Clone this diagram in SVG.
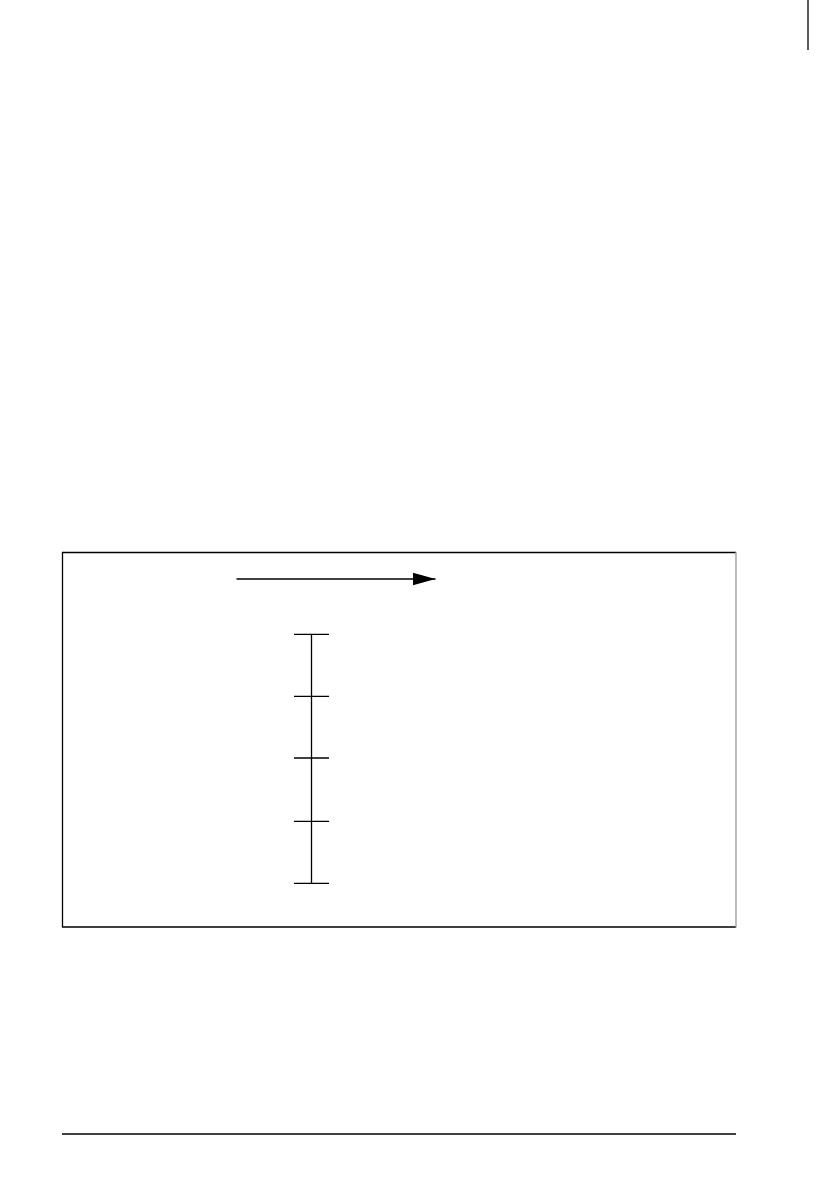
<svg xmlns="http://www.w3.org/2000/svg" width="838" height="1192" viewBox="0 0 838 1192">
<style>
.ln{stroke:#000;stroke-width:1.3;fill:none}
</style>
<defs>
<marker id="ah" markerUnits="userSpaceOnUse" markerWidth="24" markerHeight="14" refX="23" refY="7" orient="auto">
<path d="M0,0.5 L23,7 L0,13.5 Z" fill="#000"/>
</marker>
</defs>
<rect width="838" height="1192" fill="#fff"/>
<line id="corner-mark" class="ln" x1="808" y1="0" x2="808" y2="50"/>
<g id="frame">
<path d="M736,552.5 L62.5,552.5 L62.5,927 L736,927" class="ln"/>
<line x1="736" y1="552" x2="736" y2="927.5" stroke="#999" stroke-width="1.3"/>
</g>
<g id="connectors">
<line id="arrow" class="ln" x1="236.5" y1="579" x2="435.5" y2="579" marker-end="url(#ah)"/>
</g>
<g id="scale">
<line class="ln" x1="311.5" y1="634" x2="311.5" y2="883.5"/>
<line class="ln" x1="294" y1="634.3" x2="329" y2="634.3"/>
<line class="ln" x1="294" y1="696.3" x2="329" y2="696.3"/>
<line class="ln" x1="294" y1="758" x2="329" y2="758"/>
<line class="ln" x1="294" y1="821.3" x2="329" y2="821.3"/>
<line class="ln" x1="294" y1="883.3" x2="329" y2="883.3"/>
</g>
<line id="footer-rule" class="ln" x1="62" y1="1134" x2="736" y2="1134"/>
</svg>
